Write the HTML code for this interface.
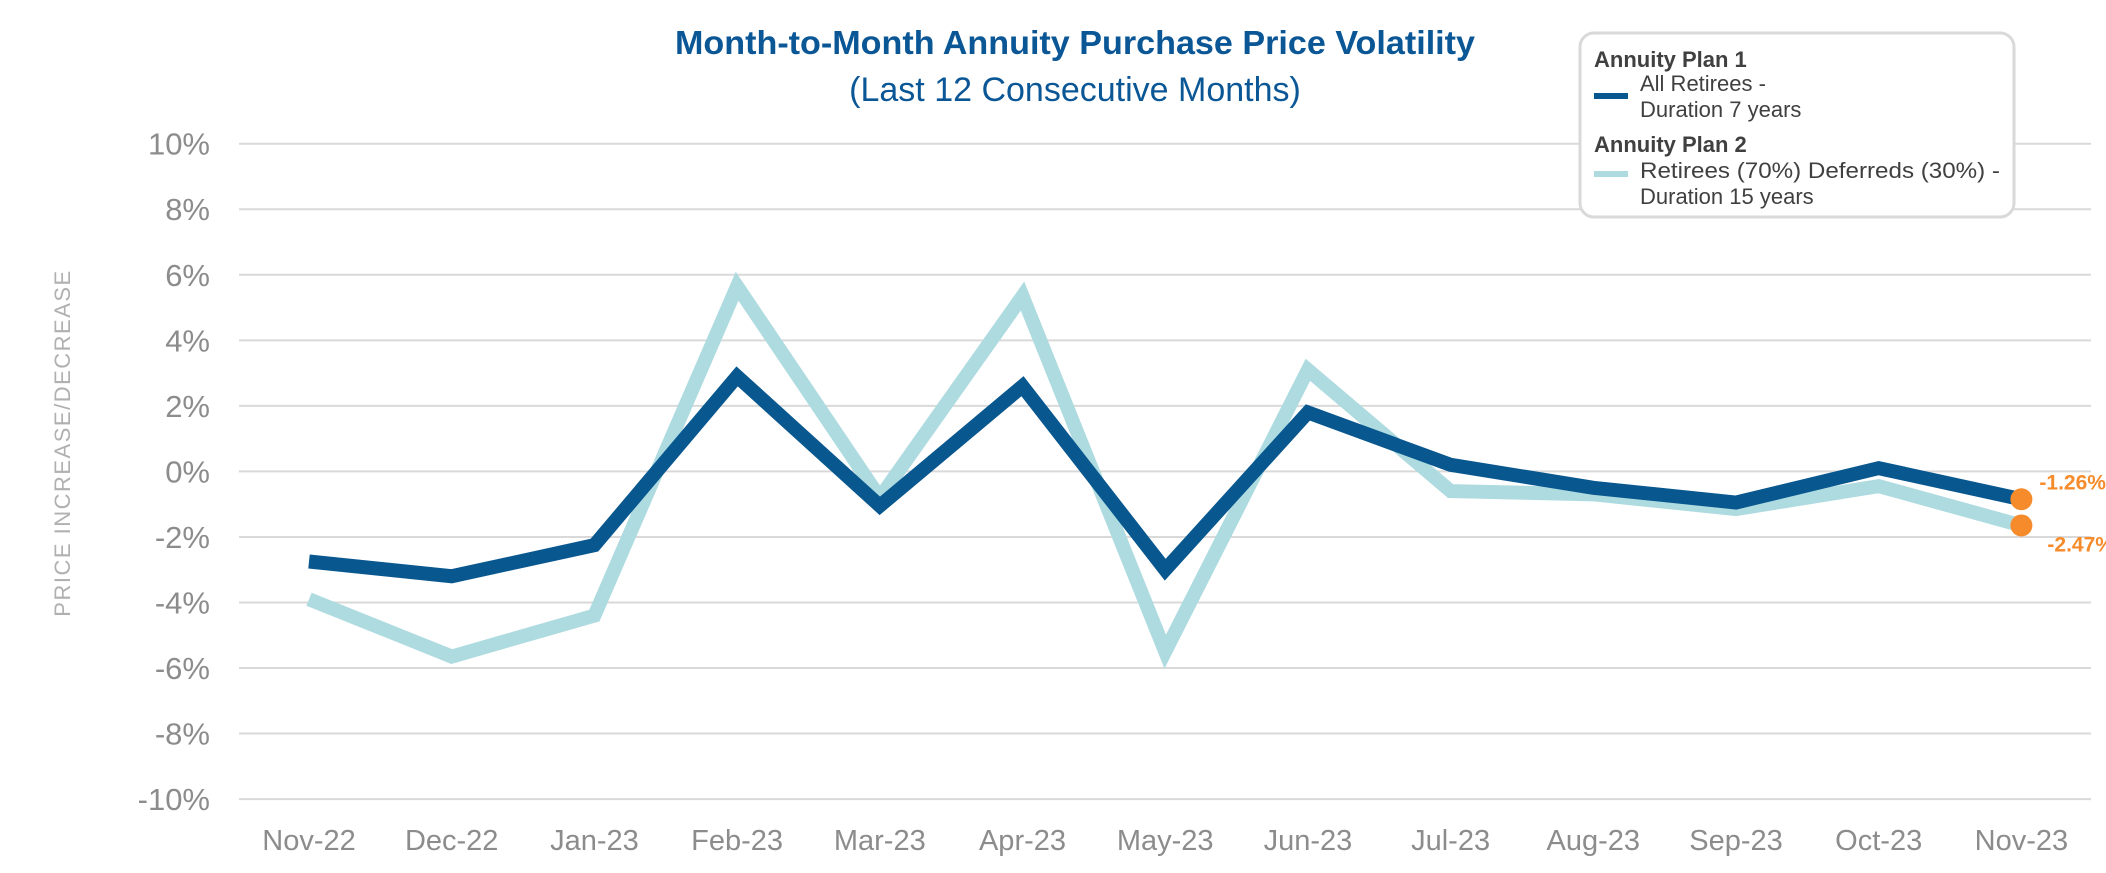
<!DOCTYPE html>
<html><head><meta charset="utf-8"><style>
body{margin:0;background:#fff;}
svg{display:block;font-family:"Liberation Sans",sans-serif;}
</style></head><body>
<svg id="chart" width="2106" height="873">
<text x="1075" y="54" text-anchor="middle" font-size="33" font-weight="bold" fill="#0b5796" textLength="800" lengthAdjust="spacingAndGlyphs">Month-to-Month Annuity Purchase Price Volatility</text>
<text x="1075" y="101" text-anchor="middle" font-size="34" fill="#0b5796">(Last 12 Consecutive Months)</text>
<g id="grid"></g><g id="yticks"></g><g id="xticks"></g><g id="lines"></g>
<text transform="translate(70,443) rotate(-90)" text-anchor="middle" font-size="22" letter-spacing="1.5" fill="#b0b0b0">PRICE INCREASE/DECREASE</text>
<g>
<rect x="1580" y="33" width="434" height="184" rx="14" fill="#fff" stroke="#d9d9d9" stroke-width="3"/>
<text x="1594" y="67" font-size="22" font-weight="bold" fill="#404040">Annuity Plan 1</text>
<line x1="1594" y1="96" x2="1628" y2="96" stroke="#08578f" stroke-width="6"/>
<text x="1640" y="91" font-size="22" fill="#404040">All Retirees -</text>
<text x="1640" y="117" font-size="22" fill="#404040">Duration 7 years</text>
<text x="1594" y="152" font-size="22" font-weight="bold" fill="#404040">Annuity Plan 2</text>
<line x1="1594" y1="174" x2="1628" y2="174" stroke="#aedbe0" stroke-width="6"/>
<text x="1640" y="178" font-size="22" fill="#404040" textLength="360" lengthAdjust="spacingAndGlyphs">Retirees (70%) Deferreds (30%) -</text>
<text x="1640" y="204" font-size="22" fill="#404040">Duration 15 years</text>
</g>
</svg>
<script>
const categories=["Nov-22","Dec-22","Jan-23","Feb-23","Mar-23","Apr-23","May-23","Jun-23","Jul-23","Aug-23","Sep-23","Oct-23","Nov-23"];
const plan1=[-2.75,-3.2,-2.25,2.9,-1.05,2.6,-3.0,1.8,0.2,-0.5,-0.95,0.1,-0.85];
const plan2=[-3.9,-5.65,-4.4,5.65,-0.8,5.35,-5.5,3.1,-0.6,-0.7,-1.15,-0.45,-1.65];
const yTicks=[10,8,6,4,2,0,-2,-4,-6,-8,-10];
const endLabels=["-1.26%","-2.47%"];
const NS="http://www.w3.org/2000/svg";
const y=v=>471.4-v*32.77;
const x=i=>309+i*142.7;
function mk(tag,attrs,parent){const e=document.createElementNS(NS,tag);for(const k in attrs)e.setAttribute(k,attrs[k]);parent.appendChild(e);return e;}
const G=document.getElementById('grid'),YT=document.getElementById('yticks'),XT=document.getElementById('xticks'),L=document.getElementById('lines');
yTicks.forEach(t=>{
 const l=mk('line',{x1:239,x2:2091,y1:y(t),y2:y(t),stroke:'#d9d9d9','stroke-width':2},G);
 
 
 const tx=mk('text',{x:210,y:y(t)+11,'text-anchor':'end','font-size':31,fill:'#8c8c8c'},YT);
 tx.textContent=t+'%';
 
 
});
categories.forEach((c,i)=>{
 const tx=mk('text',{x:x(i),y:850,'text-anchor':'middle','font-size':29,fill:'#8c8c8c'},XT);
 tx.textContent=c;
 
 
});
function series(vals,color,name){
 const p=mk('polyline',{points:vals.map((v,i)=>x(i)+','+y(v)).join(' '),fill:'none',stroke:color,'stroke-width':14,'stroke-linejoin':'miter','stroke-miterlimit':3},L);
 
 
}
series(plan2,'#aedbe0','series-plan2-line');
series(plan1,'#08578f','series-plan1-line');
[[plan1,endLabels[0],-10],[plan2,endLabels[1],26]].forEach(([vals,lab,dy],k)=>{
 const n=vals.length-1;
 const c=mk('circle',{cx:x(n),cy:y(vals[n]),r:11,fill:'#f58b2a'},L);
 
 
 const t=mk('text',{x:x(n)+(k?26:18),y:y(vals[n])+dy,'font-size':21,'font-weight':'bold',fill:'#f58b2a'},L);
 t.textContent=lab;
 
 
});
</script>
</body></html>
